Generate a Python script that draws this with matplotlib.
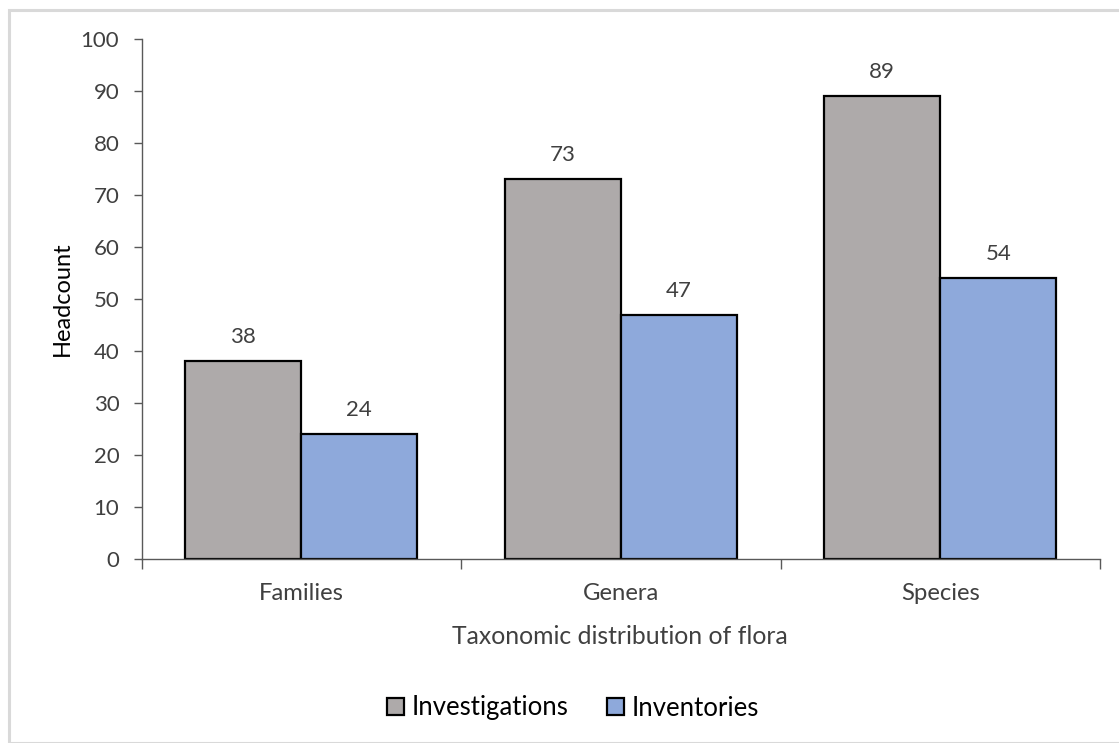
import matplotlib
matplotlib.use("Agg")
import matplotlib.pyplot as plt
from matplotlib.patches import Rectangle
import numpy as np

categories = ["Families", "Genera", "Species"]
investigations = [38, 73, 89]
inventories = [24, 47, 54]
series_names = ["Investigations", "Inventories"]
yticks = [0, 10, 20, 30, 40, 50, 60, 70, 80, 90, 100]

plt.rcParams['font.family'] = ['Lato', 'DejaVu Sans']
txt = '#404040'

W, H = 1119, 743
fig = plt.figure(figsize=(W/100, H/100), dpi=100)
fig.patches.append(Rectangle((9/W, 0), 1.2, (H-10)/H, transform=fig.transFigure,
                             fill=False, edgecolor='#d9d9d9', lw=2.2, zorder=0))
ax = fig.add_axes([141.5/W, 1-559/H, (1100-141.5)/W, (559-39)/H])

x = np.arange(len(categories)) + 0.5
w = 0.363
c1, c2 = '#AEAAAA', '#8EA9DB'
b1 = ax.bar(x - w/2, investigations, w, color=c1, edgecolor='black', lw=1.6, label=series_names[0])
b2 = ax.bar(x + w/2, inventories, w, color=c2, edgecolor='black', lw=1.6, label=series_names[1])
for bars, vals in ((b1, investigations), (b2, inventories)):
    for b, v in zip(bars, vals):
        ax.annotate(str(v), (b.get_x() + b.get_width()/2, v), xytext=(0, 13),
                    textcoords='offset points', ha='center', va='baseline', fontsize=16, color=txt)

ax.set_xlim(0, 3)
ax.set_ylim(0, 100)
ax.set_yticks(yticks)
ax.set_xticks([0, 1, 2, 3])
ax.set_xticklabels([])
ax.set_xticks(x, minor=True)
ax.set_xticklabels(categories, minor=True)
ax.tick_params(axis='x', which='minor', length=0, pad=17, labelsize=17.2, labelcolor=txt)
ax.tick_params(axis='x', which='major', length=7, width=1, color='#595959', direction='out')
ax.tick_params(axis='y', length=6, width=1, color='#595959', labelsize=16, labelcolor=txt, pad=10)
for s in ['top', 'right']:
    ax.spines[s].set_visible(False)
for s in ['left', 'bottom']:
    ax.spines[s].set_color('#595959')
    ax.spines[s].set_linewidth(1)

fig.text(620/W, 1-636/H, "Taxonomic distribution of flora", fontsize=17.8, color=txt,
         ha='center', va='center')
fig.text(62/W, 1-298.5/H, "Headcount", fontsize=17, color='black', rotation=90,
         ha='center', va='center')

leg = fig.legend(handles=[b1, b2], labels=series_names, loc='center', bbox_to_anchor=(573/W, 1-708/H),
                 ncol=2, frameon=False, fontsize=18.5, handlelength=0.66, handleheight=0.66,
                 handletextpad=0.3, columnspacing=1.5, labelcolor='black')

fig.savefig("out.png", dpi=100)
